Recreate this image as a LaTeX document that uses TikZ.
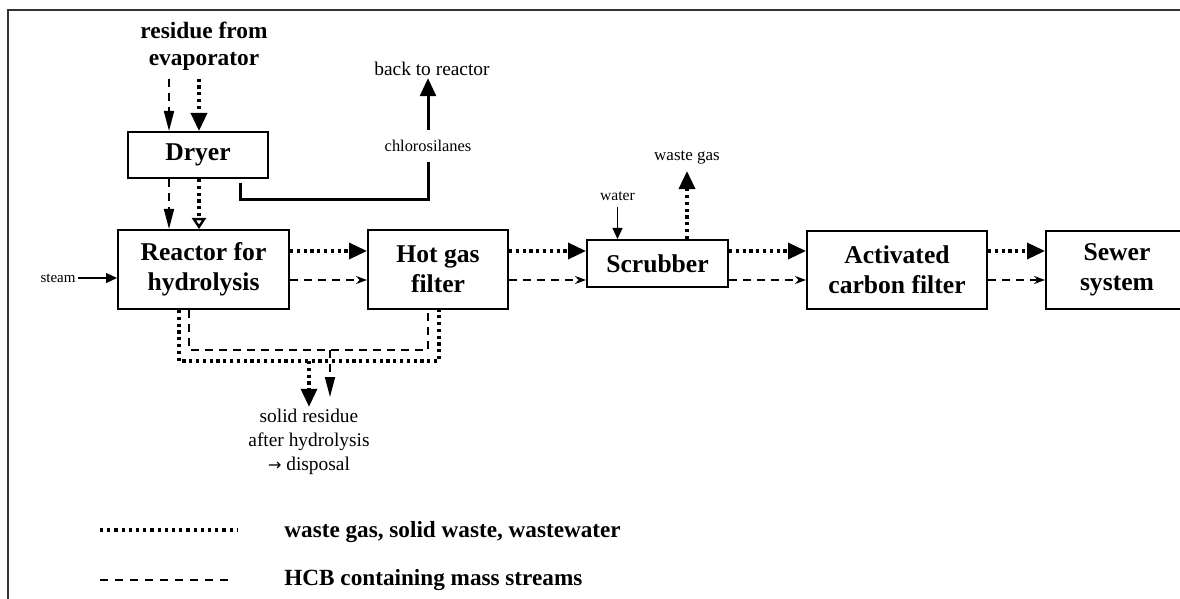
\documentclass[tikz,border=0pt]{standalone}
\usepackage{fontspec}
\setmainfont{Liberation Serif}
\newfontfamily\arrowfont{DejaVu Sans}
\usetikzlibrary{arrows.meta, positioning}

\begin{document}
\begin{tikzpicture}[x=0.5pt, y=-0.5pt,
  unit/.style={draw, line width=1pt, inner sep=0pt, align=center,
    font=\fontsize{12.8}{15}\selectfont\bfseries},
  note/.style={inner sep=1pt, align=center},
  waste/.style={line width=1.7pt, dash pattern=on 1.6pt off 1.8pt},
  hcb/.style={line width=0.8pt, dash pattern=on 4pt off 3pt},
  feed/.style={line width=0.6pt, -{Triangle[length=5.5pt,width=5pt]}},
  bigtip/.style={-{Triangle[length=9pt,width=8pt]}},
  smalltip/.style={-{Stealth[length=5.5pt,width=4pt]}},
  thintip/.style={-{Triangle[length=10pt,width=5pt]}}]

  \useasboundingbox (0,0) rectangle (1180,599);
  \clip (0,0) rectangle (1180,599);

  %% frame
  \draw[line width=0.7pt, black!80] (8,599) -- (8,10) -- (1180,10);

  %% process units
  \node[unit, minimum width=70pt, minimum height=23pt] (dryer) at (198,155) {Dryer};
  \node[unit, minimum width=85.5pt, minimum height=39.5pt] (reactor) at (203.5,269.5) {Reactor for\\hydrolysis};
  \node[unit, minimum width=70pt, minimum height=39.5pt] (hotgas) at (438,269.5) {Hot gas\\filter};
  \node[unit, minimum width=70.5pt, minimum height=23.5pt] (scrubber) at (657.5,263.5) {Scrubber};
  \node[unit, minimum width=90pt, minimum height=39pt] (carbon) at (897,270) {Activated\\carbon filter};
  \node[unit, minimum width=71pt, minimum height=39pt] (sewer) at (1117,270) {Sewer\\system};

  %% stream labels
  \node[note, inner sep=4pt, font=\fontsize{11.7}{13.5}\selectfont\bfseries] (residue) at (204,46) {residue from\\evaporator};
  \node[note, font=\fontsize{9.7}{11}\selectfont] (back) at (432,69) {back to reactor};
  \node[note, inner sep=0pt, minimum height=16pt, font=\fontsize{8.2}{10}\selectfont] (chloro) at (428,146) {chlorosilanes};
  \node[note, font=\fontsize{7.5}{9}\selectfont] (steam) at (58,278) {steam};
  \node[note, inner sep=3pt, font=\fontsize{7.8}{9}\selectfont] (water) at (617.5,196) {water};
  \node[note, inner sep=3pt, font=\fontsize{8.5}{10}\selectfont] (wastegas) at (687,158) {waste gas};
  \node[note, font=\fontsize{9.7}{12}\selectfont] (solid) at (309,442) {solid residue\\after hydrolysis\\{\arrowfont\fontsize{8}{12}\selectfont →} disposal};

  %% stream levels
  \coordinate (yW) at (0,251);
  \coordinate (yH) at (0,280);
  \coordinate (xA) at (169,0);
  \coordinate (xB) at (199,0);

  %% main line
  \foreach \a/\b in {reactor/hotgas, hotgas/scrubber, scrubber/carbon, carbon/sewer}{
    \draw[waste, bigtip] (\a.east |- yW) -- (\b.west |- yW);
    \draw[hcb, smalltip] (\a.east |- yH) -- (\b.west |- yH);
  }

  %% dryer in and out
  \draw[hcb, thintip] (residue.south -| xA) -- (dryer.north -| xA);
  \draw[waste, bigtip] (residue.south -| xB) -- (dryer.north -| xB);
  \draw[hcb, thintip] (dryer.south -| xA) -- (reactor.north -| xA);
  \draw[waste, -{Triangle[open,length=5.5pt,width=7pt,line width=1.2pt]}] (dryer.south -| xB) -- (reactor.north -| xB);

  %% chlorosilanes back to reactor
  \coordinate (bend) at (428,200);
  \draw[line width=1.5pt] ([xshift=-14.5pt,yshift=-2pt]dryer.south east) |- (bend) -- (chloro.south);
  \draw[line width=1.5pt, bigtip] (chloro.north) -- (chloro.north |- back.south);

  %% side streams
  \draw[feed] (steam.east) -- (reactor.west |- steam.east);
  \draw[feed] (water.south) -- (scrubber.north -| water.south);
  \draw[waste, bigtip] (scrubber.north -| wastegas) -- (wastegas.south);

  %% solid residue
  \coordinate (dotL) at (179,361);
  \coordinate (dotR) at (439,361);
  \coordinate (hcbL) at (189,350);
  \coordinate (hcbR) at (428,350);
  \coordinate (hcbEnd) at (330,397);
  \draw[waste] (reactor.south -| dotL) -- (dotL) -- (dotR) -- (hotgas.south -| dotR);
  \draw[hcb] (reactor.south -| hcbL) -- (hcbL) -- (hcbR) -- (hotgas.south -| hcbR);
  \draw[waste, bigtip] (solid.north |- dotL) -- (solid.north);
  \draw[hcb, thintip] (hcbEnd |- hcbL) -- (hcbEnd);

  %% legend
  \coordinate (lgA) at (100,530);
  \coordinate (lgB) at (237,530);
  \coordinate (lgC) at (100,580);
  \coordinate (lgD) at (230,580);
  \draw[line width=1.6pt, dash pattern=on 1.6pt off 2pt] (lgA) -- (lgB);
  \draw[line width=0.6pt, dash pattern=on 4pt off 3.5pt] (lgC) -- (lgD);
  \node[note, anchor=west, font=\fontsize{11.6}{14}\selectfont\bfseries] (keyW) at (282,532) {waste gas, solid waste, wastewater};
  \node[note, anchor=west, font=\fontsize{11.6}{14}\selectfont\bfseries] (keyH) at (282,580) {HCB containing mass streams};

\end{tikzpicture}
\end{document}
